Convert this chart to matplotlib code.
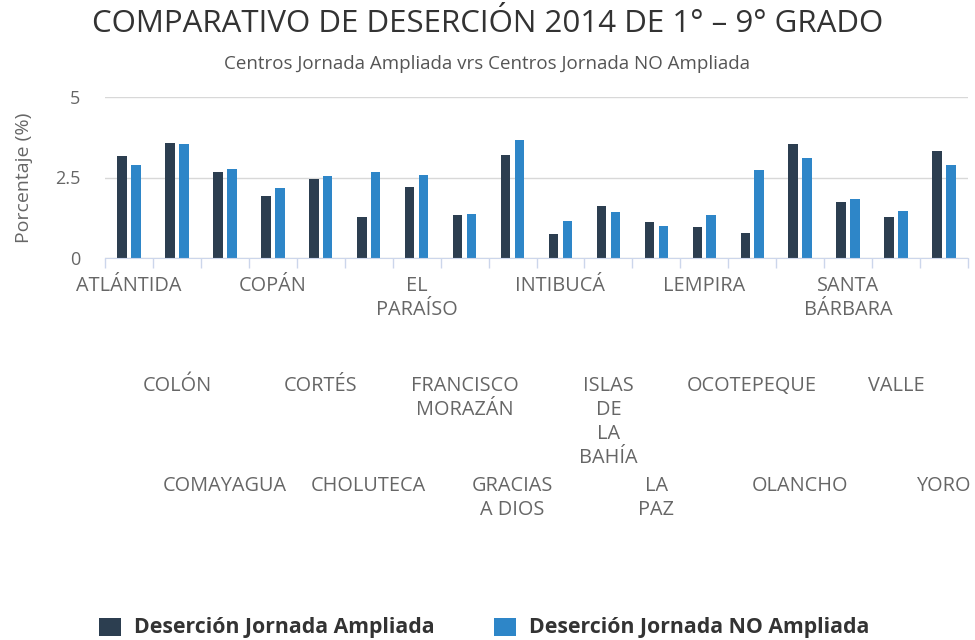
import matplotlib
matplotlib.use("Agg")
import matplotlib.pyplot as plt
from matplotlib.patches import Rectangle
import numpy as np

plt.rcParams['font.family'] = ['Open Sans', 'DejaVu Sans']

departamentos = ["ATLÁNTIDA", "COLÓN", "COMAYAGUA", "COPÁN", "CORTÉS", "CHOLUTECA",
                 "EL\nPARAÍSO", "FRANCISCO\nMORAZÁN", "GRACIAS\nA DIOS", "INTIBUCÁ",
                 "ISLAS\nDE\nLA\nBAHÍA", "LA\nPAZ", "LEMPIRA", "OCOTEPEQUE", "OLANCHO",
                 "SANTA\nBÁRBARA", "VALLE", "YORO"]
ampliada = [3.18, 3.58, 2.68, 1.94, 2.44, 1.26, 2.21, 1.32, 3.21, 0.74,
            1.63, 1.11, 0.95, 0.79, 3.53, 1.74, 1.26, 3.32]
no_ampliada = [2.89, 3.53, 2.76, 2.18, 2.55, 2.68, 2.58, 1.37, 3.68, 1.16,
               1.42, 1.00, 1.32, 2.74, 3.10, 1.84, 1.47, 2.89]
yticks = [0, 2.5, 5]
ytick_labels = ["0", "2.5", "5"]
series_names = ["Deserción Jornada Ampliada", "Deserción Jornada NO Ampliada"]
colors = ["#2c3e50", "#2e86c8"]

W, H = 975, 640
fig = plt.figure(figsize=(W / 100, H / 100), dpi=100)
ax_left, ax_right, ax_top, ax_bottom = 105, 968, 97, 258
ax = fig.add_axes([ax_left / W, 1 - ax_bottom / H, (ax_right - ax_left) / W, (ax_bottom - ax_top) / H])

x = np.arange(len(departamentos))
bw = 0.2
off = 0.145
ax.bar(x - off, ampliada, width=bw, color=colors[0], zorder=3)
ax.bar(x + off, no_ampliada, width=bw, color=colors[1], zorder=3)

ax.set_xlim(-0.5, len(departamentos) - 0.5)
ax.set_ylim(0, 5)
ax.set_yticks(yticks)
ax.set_yticklabels(ytick_labels)
ax.tick_params(axis='y', length=0, pad=18, labelsize=13, labelcolor="#666666")
ax.grid(axis='y', color="#d8d8d8", linewidth=1, zorder=0)
for s in ['top', 'right', 'left']:
    ax.spines[s].set_visible(False)
ax.spines['bottom'].set_color("#ccd6eb")
ax.spines['bottom'].set_zorder(4)

ax.set_xticks(np.arange(-0.5, len(departamentos), 1.0))
ax.set_xticklabels([])
ax.tick_params(axis='x', length=7, color="#ccd6eb", width=1)

row_offsets = [-18, -118, -218]
for i, name in enumerate(departamentos):
    ax.annotate(name, xy=(x[i], 0), xycoords=('data', 'axes fraction'),
                xytext=(0, row_offsets[i % 3] * 0.72), textcoords='offset points',
                ha='center', va='top', fontsize=14.3, color="#666666", linespacing=1.27)

ax.set_ylabel("Porcentaje (%)", fontsize=14, color="#666666")
ax.yaxis.set_label_coords(-(ax_left - 24) / (ax_right - ax_left), 0.5)
ax.yaxis.label.set_verticalalignment('center')

fig.text(0.5, 1 - 24 / H, "COMPARATIVO DE DESERCIÓN 2014 DE 1° – 9° GRADO",
         ha='center', va='center', fontsize=22.5, color="#333333")
fig.text(0.5, 1 - 64 / H, "Centros Jornada Ampliada vrs Centros Jornada NO Ampliada",
         ha='center', va='center', fontsize=13.5, color="#555555")

leg_y = 627
for px, name, c in [(99, series_names[0], colors[0]), (494, series_names[1], colors[1])]:
    fig.patches.append(Rectangle((px / W, 1 - (leg_y + 9) / H), 22 / W, 18 / H,
                                 transform=fig.transFigure, facecolor=c, edgecolor='none'))
    fig.text((px + 35) / W, 1 - leg_y / H, name, ha='left', va='center',
             fontsize=15.3, fontweight='bold', color="#333333")

fig.savefig("out.png", dpi=100)
